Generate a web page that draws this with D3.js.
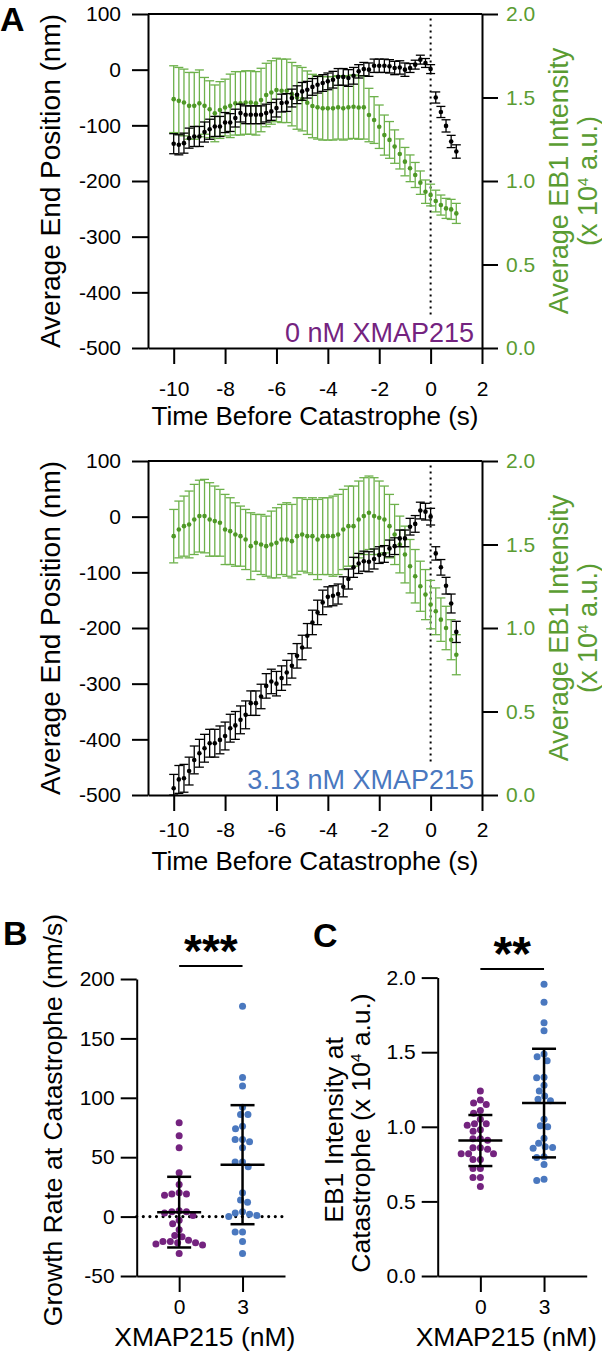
<!DOCTYPE html>
<html><head><meta charset="utf-8">
<script src="https://cdn.jsdelivr.net/npm/d3@7"></script>
<style>
body{margin:0;background:#fff}
svg{display:block}
text{font-family:"Liberation Sans",Arial,Helvetica,sans-serif}
</style>
</head><body>
<svg id="c" width="602" height="1354"></svg>
<script>
// ---------------- DATA ----------------
const times = [-10,-9.8,-9.6,-9.4,-9.2,-9,-8.8,-8.6,-8.4,-8.2,-8,-7.8,-7.6,-7.4,-7.2,-7,-6.8,-6.6,-6.4,-6.2,-6,-5.8,-5.6,-5.4,-5.2,-5,-4.8,-4.6,-4.4,-4.2,-4,-3.8,-3.6,-3.4,-3.2,-3,-2.8,-2.6,-2.4,-2.2,-2,-1.8,-1.6,-1.4,-1.2,-1,-0.8,-0.6,-0.4,-0.2,0,0.2,0.4,0.6,0.8,1];

// Panel A top: 0 nM XMAP215
const topPos = [-133,-135,-132,-123,-120,-120,-112,-107,-102,-102,-95,-95,-87,-78,-81,-81,-81,-81,-78,-75,-69,-60,-59,-51,-45,-39,-36,-31,-27,-24,-21,-18,-13,-13,-15,-11,-3,1,0,7,7,7,6,3,4,0,3,9,18,12,1,-50,-76,-101,-129,-147];
const topPosErr = [18,18,18,18,18,18,18,18,18,18,18,16,16,16,16,16,16,16,16,16,16,16,16,16,16,16,15,15,15,15,15,15,15,15,15,15,12,12,12,12,12,12,12,12,12,12,8,8,8,8,8,10,10,11,11,12];
const topEB = [1.49,1.48,1.47,1.45,1.45,1.465,1.45,1.43,1.405,1.425,1.44,1.45,1.465,1.465,1.47,1.47,1.465,1.485,1.515,1.53,1.545,1.54,1.54,1.52,1.50,1.49,1.469,1.449,1.441,1.435,1.435,1.435,1.441,1.435,1.441,1.445,1.44,1.441,1.395,1.365,1.325,1.275,1.246,1.206,1.162,1.116,1.076,1.036,0.99,0.936,0.916,0.88,0.856,0.836,0.83,0.806];
const topEBErr = [0.2,0.2,0.2,0.2,0.2,0.2,0.17,0.17,0.17,0.17,0.17,0.19,0.19,0.19,0.19,0.19,0.19,0.19,0.19,0.19,0.19,0.19,0.19,0.19,0.19,0.19,0.19,0.19,0.19,0.19,0.19,0.19,0.19,0.19,0.19,0.19,0.19,0.19,0.16,0.14,0.13,0.12,0.11,0.1,0.09,0.085,0.08,0.075,0.07,0.07,0.065,0.065,0.06,0.06,0.06,0.06];

// Panel A bottom: 3.13 nM XMAP215
const botPos = [-488,-472,-470,-457,-437,-425,-416,-407,-407,-401,-394,-380,-375,-365,-356,-335,-335,-323,-304,-296,-300,-290,-280,-268,-250,-235,-214,-190,-172,-154,-144,-142,-139,-126,-112,-91,-84,-80,-81,-76,-69,-67,-57,-53,-39,-39,-18,-13,11,9,0,-66,-91,-124,-156,-207];
const botPosErr = [25,25,25,25,25,25,25,25,25,25,25,25,25,25,25,22,22,22,22,22,22,22,22,22,22,22,22,22,22,22,18,18,18,18,18,18,18,18,18,18,15,15,15,15,15,15,15,15,15,15,15,12,14,15,17,19];
const botEB = [1.55,1.59,1.61,1.62,1.65,1.67,1.67,1.65,1.64,1.63,1.59,1.58,1.56,1.55,1.53,1.49,1.51,1.50,1.49,1.50,1.51,1.53,1.53,1.52,1.55,1.56,1.55,1.55,1.53,1.55,1.55,1.55,1.56,1.59,1.61,1.61,1.65,1.67,1.69,1.67,1.66,1.65,1.61,1.56,1.50,1.44,1.37,1.31,1.25,1.20,1.14,1.10,1.05,1.00,0.93,0.84];
const botEBErr = [0.16,0.17,0.18,0.2,0.21,0.215,0.22,0.22,0.21,0.2,0.21,0.2,0.19,0.18,0.18,0.2,0.17,0.18,0.18,0.2,0.21,0.21,0.22,0.22,0.23,0.22,0.22,0.23,0.24,0.23,0.23,0.24,0.24,0.24,0.24,0.24,0.23,0.23,0.22,0.23,0.22,0.2,0.19,0.18,0.17,0.17,0.16,0.16,0.15,0.15,0.145,0.14,0.13,0.13,0.12,0.12];

const posTicks = [-500,-400,-300,-200,-100,0,100];
const ebTicks = [0,0.5,1,1.5,2];
const timeTicks = [-10,-8,-6,-4,-2,0,2];

// Panel B: growth rate at catastrophe (nm/s)
const xmapCats = ["0","3"];
const growth0 = [79,68,58,37,27,20,19,19,18,5,4,4,3,1,-3,-6,-11,-16,-17,-20,-21,-21,-22,-22,-23,-24,-31];
const growth3 = [177,117,110,92,86,86,76,74,65,65,63,58,46,46,42,20,14,12,4,3,2,1,0,-13,-13,-21,-31];
const growthMean = [3.75,43.7];
const growthSD = [29.75,50.1];
const growthTicks = [-50,0,50,100,150,200];

// Panel C: EB1 intensity at catastrophe (x10^4 a.u.)
const ebCat0 = [1.24,1.18,1.16,1.15,1.11,1.09,1.05,1.02,1.02,1.01,0.98,0.97,0.92,0.92,0.91,0.86,0.86,0.85,0.82,0.82,0.82,0.78,0.78,0.72,0.72,0.66,0.66,0.60];
const ebCat3 = [1.955,1.834,1.698,1.644,1.488,1.47,1.443,1.332,1.329,1.278,1.24,1.206,1.184,1.175,1.05,1.007,1.0,0.923,0.889,0.866,0.856,0.862,0.795,0.8,0.748,0.648,0.64];
const ebCatMean = [0.908,1.159];
const ebCatSD = [0.171,0.364];
const ebCatTicks = [0,0.5,1,1.5,2];

// ---------------- STYLE ----------------
const GREEN_TXT = "#5a9c32", GREEN_PT = "#4e9826", GREEN_BAR = "#6db14b";
const PURPLE = "#74237f", BLUE = "#4a78bf";
const TICK_FS = 21, TITLE_FS = 26.5;

const svg = d3.select("#c");

function styleAxis(g, color) {
  g.attr("font-size", null).attr("font-family", null);
  g.selectAll(".domain").attr("stroke", "#000").attr("stroke-width", 2);
  g.selectAll(".tick line").attr("stroke", "#000").attr("stroke-width", 2);
  g.selectAll(".tick text").attr("fill", color || "#000").style("font-size", TICK_FS + "px");
}

function drawA(top, bottom, pos, posErr, eb, ebErr, label, labelColor, labelBase, tickPad, titleBase) {
  const x = d3.scaleLinear().domain([-11, 2]).range([148, 482]);
  const yL = d3.scaleLinear().domain([-500, 100]).range([bottom, top]).clamp(true);
  const yR = d3.scaleLinear().domain([0, 2]).range([bottom, top]).clamp(true);
  const g = svg.append("g");

  const ax = g.append("g").attr("transform", `translate(0,${bottom})`)
    .call(d3.axisBottom(x).tickValues(timeTicks).tickSize(16).tickSizeOuter(0).tickPadding(tickPad).tickFormat(d => String(d)));
  styleAxis(ax);
  const al = g.append("g").attr("transform", `translate(${x(-11)},0)`)
    .call(d3.axisLeft(yL).tickValues(posTicks).tickSize(16).tickSizeOuter(0).tickPadding(11).tickFormat(d => String(d)));
  styleAxis(al);
  const ar = g.append("g").attr("transform", `translate(${x(2)},0)`)
    .call(d3.axisRight(yR).tickValues(ebTicks).tickSize(16).tickSizeOuter(0).tickPadding(8).tickFormat(d3.format(".1f")));
  styleAxis(ar, GREEN_TXT);
  g.append("line").attr("x1", x(-11)).attr("x2", x(2)).attr("y1", yL(100)).attr("y2", yL(100))
    .attr("stroke", "#000").attr("stroke-width", 2);

  g.append("line").attr("x1", x(0)).attr("x2", x(0)).attr("y1", yL(92)).attr("y2", yL(-445))
    .attr("stroke", "#000").attr("stroke-width", 2).attr("stroke-dasharray", "2,4");

  const capW = 4.5;
  function series(vals, errs, y, barColor, ptColor) {
    const s = g.append("g");
    times.forEach((t, i) => {
      const cx = x(t), y1 = y(vals[i] - errs[i]), y2 = y(vals[i] + errs[i]);
      s.append("line").attr("x1", cx).attr("x2", cx).attr("y1", y1).attr("y2", y2).attr("stroke", barColor).attr("stroke-width", 1.3);
      s.append("line").attr("x1", cx - capW).attr("x2", cx + capW).attr("y1", y1).attr("y2", y1).attr("stroke", barColor).attr("stroke-width", 1.3);
      s.append("line").attr("x1", cx - capW).attr("x2", cx + capW).attr("y1", y2).attr("y2", y2).attr("stroke", barColor).attr("stroke-width", 1.3);
    });
    s.selectAll("circle").data(vals).join("circle")
      .attr("cx", (d, i) => x(times[i])).attr("cy", d => y(d)).attr("r", 2.3).attr("fill", ptColor);
  }
  series(eb, ebErr, yR, GREEN_BAR, GREEN_PT);
  series(pos, posErr, yL, "#000", "#000");

  g.append("text").attr("x", 474).attr("y", labelBase).attr("text-anchor", "end")
    .attr("fill", labelColor).style("font-size", "27px").text(label);

  g.append("text").attr("x", 315).attr("y", titleBase).attr("text-anchor", "middle")
    .style("font-size", "26px").text("Time Before Catastrophe (s)");
  const cy = (top + bottom) / 2;
  g.append("text").attr("transform", `translate(60,${cy}) rotate(-90)`).attr("text-anchor", "middle")
    .style("font-size", "28px").text("Average End Position (nm)");
  g.append("text").attr("transform", `translate(568,${cy}) rotate(-90)`).attr("text-anchor", "middle")
    .attr("fill", GREEN_TXT).style("font-size", "27px").text("Average EB1 Intensity");
  const t2 = g.append("text").attr("transform", `translate(597,${cy}) rotate(-90)`).attr("text-anchor", "middle")
    .attr("fill", GREEN_TXT).style("font-size", "27px");
  t2.append("tspan").text("(x 10");
  t2.append("tspan").attr("dy", -9).style("font-size", "15px").text("4");
  t2.append("tspan").attr("dy", 9).text(" a.u.)");
}

drawA(14, 348, topPos, topPosErr, topEB, topEBErr, "0 nM XMAP215", PURPLE, 342, 17, 425);
drawA(461, 795, botPos, botPosErr, botEB, botEBErr, "3.13 nM XMAP215", BLUE, 789, 11, 870);

svg.append("text").attr("x", 0).attr("y", 31).style("font-size", "34px").attr("font-weight", "bold").text("A");
svg.append("text").attr("x", 3).attr("y", 945).style("font-size", "34px").attr("font-weight", "bold").text("B");
svg.append("text").attr("x", 313).attr("y", 947).style("font-size", "34px").attr("font-weight", "bold").text("C");

function swarm(vals, y, D) {
  const pts = vals.map(v => ({ v, y: y(v) })).sort((a, b) => a.y - b.y);
  const placed = [];
  for (const p of pts) {
    const cands = [0];
    for (const q of placed) {
      const dy = Math.abs(q.y - p.y);
      if (dy < D) { const w = Math.sqrt(D * D - dy * dy); cands.push(q.dx - w, q.dx + w); }
    }
    cands.sort((a, b) => Math.abs(a) - Math.abs(b) || a - b);
    for (const c of cands) {
      if (placed.every(q => { const dy = q.y - p.y, dx = q.dx - c; return dx * dx + dy * dy >= D * D - 1e-6; })) { p.dx = c; break; }
    }
    placed.push(p);
  }
  return placed;
}

function drawDot(left, right, top, bottom, domain, ticks, fmt, groups, means, sds, stars, starsFs, sigY, zeroLine) {
  const g = svg.append("g");
  const x = d3.scalePoint().domain(xmapCats).range([left, right]).padding(0.67);
  const y = d3.scaleLinear().domain(domain).range([bottom, top]);
  const ax = g.append("g").attr("transform", `translate(0,${bottom})`)
    .call(d3.axisBottom(x).tickSize(16).tickSizeOuter(0).tickPadding(7));
  styleAxis(ax);
  const ay = g.append("g").attr("transform", `translate(${left},0)`)
    .call(d3.axisLeft(y).tickValues(ticks).tickSize(16).tickSizeOuter(0).tickPadding(6).tickFormat(fmt));
  styleAxis(ay);
  if (zeroLine) {
    g.append("line").attr("x1", left).attr("x2", right - 2).attr("y1", y(0)).attr("y2", y(0))
      .attr("stroke", "#000").attr("stroke-width", 3.2).attr("stroke-linecap", "round").attr("stroke-dasharray", "0,6.6");
  }
  const colors = [PURPLE, BLUE];
  groups.forEach((vals, gi) => {
    const cx = x(xmapCats[gi]);
    const pts = swarm(vals, y, 7.4);
    g.append("g").selectAll("circle").data(pts).join("circle")
      .attr("cx", d => cx + d.dx).attr("cy", d => d.y).attr("r", 3.5).attr("fill", colors[gi]);
    const m = means[gi], s = sds[gi];
    const ln = (x1, x2, y1, y2) => g.append("line").attr("x1", x1).attr("x2", x2).attr("y1", y1).attr("y2", y2)
      .attr("stroke", "#000").attr("stroke-width", 2.5);
    ln(cx, cx, y(m - s), y(m + s));
    ln(cx - 22, cx + 22, y(m), y(m));
    ln(cx - 12, cx + 12, y(m + s), y(m + s));
    ln(cx - 12, cx + 12, y(m - s), y(m - s));
  });
  g.append("line").attr("x1", x("0")).attr("x2", x("3")).attr("y1", sigY).attr("y2", sigY)
    .attr("stroke", "#000").attr("stroke-width", 2);
  g.append("text").attr("x", (x("0") + x("3")) / 2).attr("y", sigY + 1).attr("text-anchor", "middle")
    .attr("font-weight", "bold").style("font-size", starsFs + "px").text(stars);
  g.append("text").attr("x", (left + right) / 2 - 6).attr("y", 1346).attr("text-anchor", "middle")
    .style("font-size", "26.5px").text("XMAP215 (nM)");
  return { g, y };
}

const pb = drawDot(136.7, 285, 979, 1276, [-50, 200], growthTicks, d => String(d), [growth0, growth3], growthMean, growthSD,
  "***", 46, 966, true);
pb.g.append("text").attr("transform", "translate(62,1120) rotate(-90)").attr("text-anchor", "middle")
  .style("font-size", TITLE_FS + "px").text("Growth Rate at Catastrophe (nm/s)");

const pc = drawDot(437.7, 586.7, 977.6, 1276, [0, 2], ebCatTicks, d3.format(".1f"), [ebCat0, ebCat3], ebCatMean, ebCatSD,
  "**", 48, 969, false);
pc.g.append("text").attr("transform", "translate(343,1130) rotate(-90)").attr("text-anchor", "middle")
  .style("font-size", TITLE_FS + "px").text("EB1 Intensity at");
const ct = pc.g.append("text").attr("transform", "translate(370,1133) rotate(-90)").attr("text-anchor", "middle")
  .style("font-size", TITLE_FS + "px");
ct.append("tspan").text("Catastrophe (x 10");
ct.append("tspan").attr("dy", -9).style("font-size", "15px").text("4");
ct.append("tspan").attr("dy", 9).text(" a.u.)");
</script>
</body></html>
